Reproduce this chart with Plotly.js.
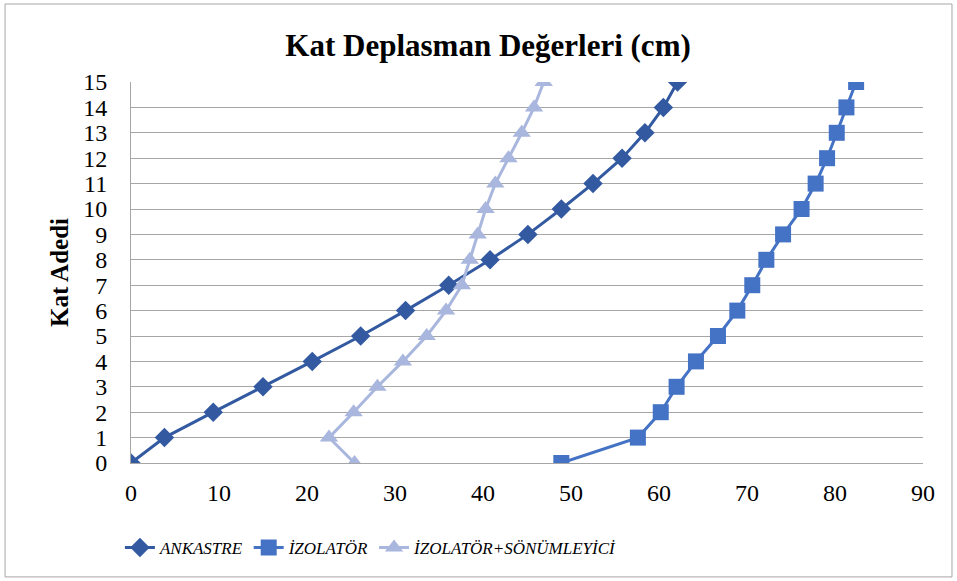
<!DOCTYPE html>
<html>
<head>
<meta charset="utf-8">
<script src="https://cdn.plot.ly/plotly-3.0.1.min.js"></script>
<style>html,body{margin:0;padding:0;background:#fff;}#chart{width:957px;height:581px;}</style>
</head>
<body>
<div id="chart"></div>
<script>
const floors = [0,1,2,3,4,5,6,7,8,9,10,11,12,13,14,15];
const ankastre = [0,3.8,9.35,15.0,20.6,26.1,31.2,36.1,40.8,45.1,48.9,52.5,55.8,58.4,60.5,62.1];
const izolator = [48.9,57.6,60.2,62.0,64.2,66.7,68.9,70.6,72.2,74.1,76.2,77.8,79.1,80.2,81.3,82.4];
const izolatorSonum = [25.4,22.5,25.3,28.0,30.9,33.6,35.8,37.6,38.5,39.4,40.3,41.4,42.9,44.4,45.8,46.9];
const seriesNames = ['ANKASTRE','İZOLATÖR','İZOLATÖR+SÖNÜMLEYİCİ'];
const xTicks = [0,10,20,30,40,50,60,70,80,90];

const serif = '"Liberation Serif", "Times New Roman", serif';
const traces = [
  {x: ankastre, y: floors, name: '<i>' + seriesNames[0] + '</i>', mode: 'lines+markers',
   line: {color: '#335AA1', width: 3}, marker: {symbol: 'diamond', size: 15, color: '#335AA1'}},
  {x: izolator, y: floors, name: '<i>' + seriesNames[1] + '</i>', mode: 'lines+markers',
   line: {color: '#4472C4', width: 3}, marker: {symbol: 'square', size: 16, color: '#4472C4'}},
  {x: izolatorSonum, y: floors, name: '<i>' + seriesNames[2] + '</i>', mode: 'lines+markers',
   line: {color: '#A9B6DD', width: 3}, marker: {symbol: 'triangle-up', size: 16, color: '#A9B6DD'}}
];
const layout = {
  width: 957, height: 581,
  margin: {l: 131, r: 34, t: 82, b: 118},
  paper_bgcolor: '#fff', plot_bgcolor: '#fff',
  font: {family: serif, color: '#000'},
  title: {text: '<b>Kat Deplasman Değerleri (cm)</b>', font: {family: serif, size: 31, color: '#000'},
          x: 0.51, xanchor: 'center', y: 0.922, yanchor: 'middle'},
  xaxis: {range: [0, 90], tickvals: xTicks, showgrid: false, zeroline: false,
          showline: true, linecolor: '#A6A6A6', linewidth: 1,
          ticks: 'outside', ticklen: 8, tickcolor: 'rgba(0,0,0,0)',
          tickfont: {family: serif, size: 24, color: '#000'}, fixedrange: true},
  yaxis: {range: [0, 15], dtick: 1, showgrid: true, gridcolor: '#A6A6A6', gridwidth: 1,
          zeroline: false, showline: true, linecolor: '#A6A6A6', linewidth: 1,
          ticks: 'outside', ticklen: 18, tickcolor: 'rgba(0,0,0,0)',
          tickfont: {family: serif, size: 24, color: '#000'},
          title: {text: '<b>Kat Adedi</b>', font: {family: serif, size: 25, color: '#000'}, standoff: 7},
          fixedrange: true},
  legend: {orientation: 'h', x: -0.014, xanchor: 'left', y: -0.223, yanchor: 'middle',
           font: {family: serif, size: 17, color: '#000'}, itemwidth: 30},
  shapes: [{type: 'rect', xref: 'paper', yref: 'paper', x0: -0.159, x1: 1.0366, y0: -0.299, y1: 1.2047,
            line: {color: '#A6A6A6', width: 1}, fillcolor: 'rgba(0,0,0,0)'}],
  showlegend: true
};
Plotly.newPlot('chart', traces, layout, {displayModeBar: false, staticPlot: true});
</script>
</body>
</html>
